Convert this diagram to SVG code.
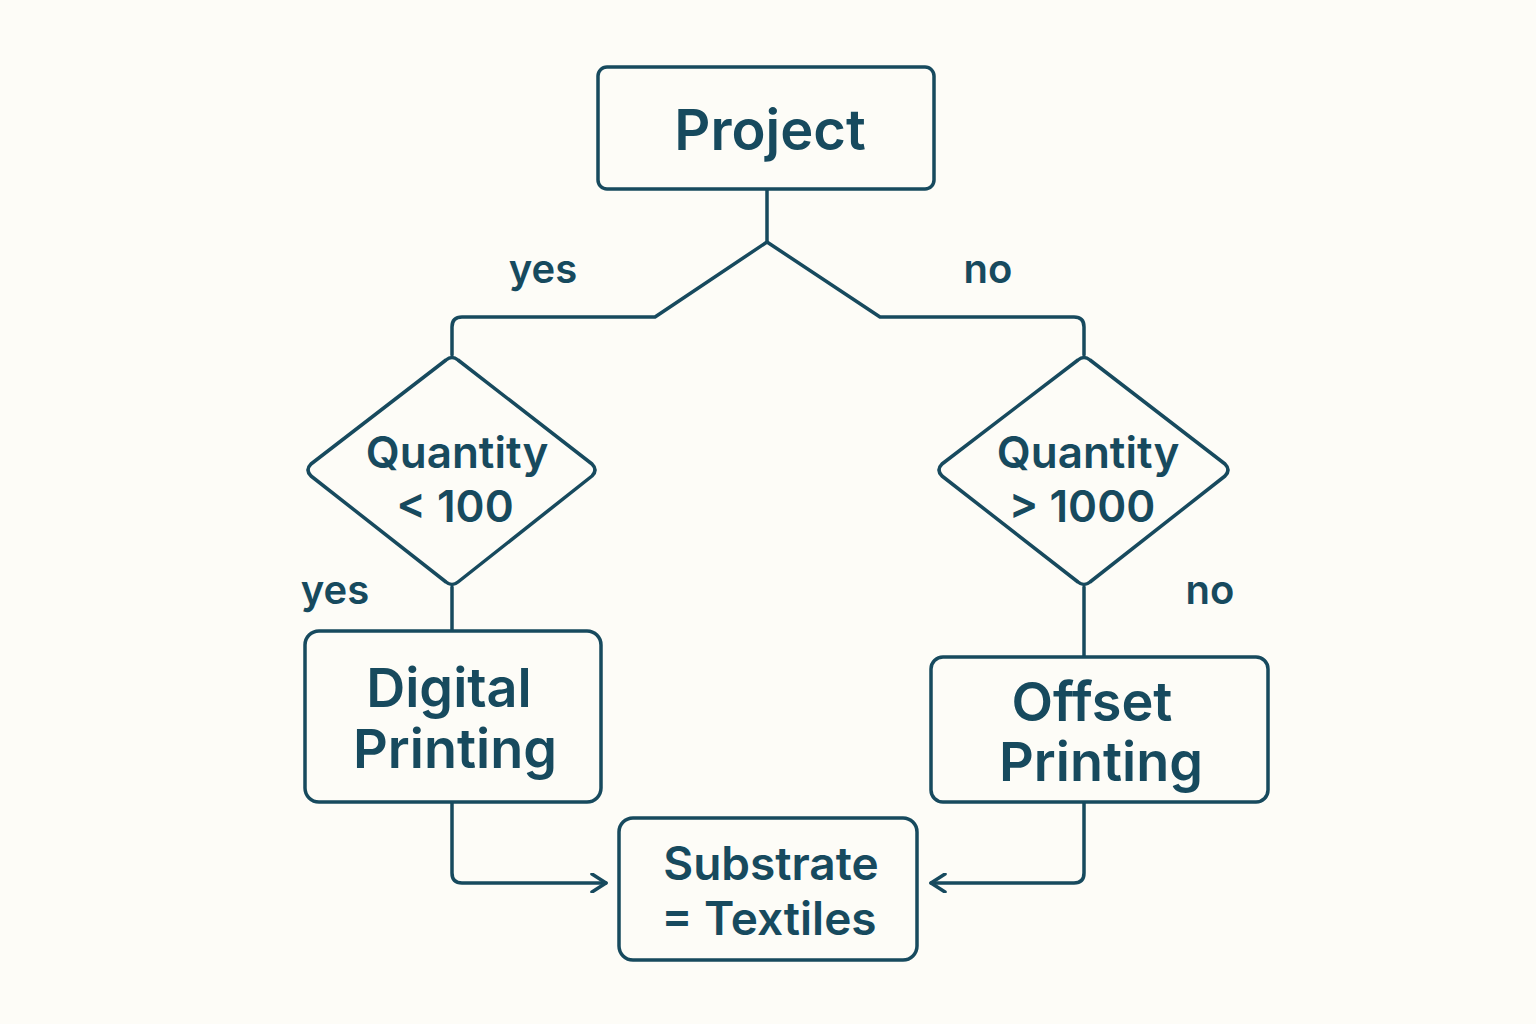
<svg xmlns="http://www.w3.org/2000/svg" width="1536" height="1024" viewBox="0 0 1536 1024">
<defs>
<style>
.s{fill:none;stroke:#174a5e;stroke-width:3.5;stroke-linejoin:round;stroke-linecap:round}
.b{fill:#fdfcf7;stroke:#174a5e;stroke-width:3.5;stroke-linejoin:round}
text{font-family:"Inter","Liberation Sans",sans-serif;fill:#174a5e;font-weight:600;text-anchor:middle}
</style>
<marker id="a" viewBox="0 0 20 20" refX="18" refY="10" markerWidth="20" markerHeight="20" markerUnits="userSpaceOnUse" orient="auto">
<path d="M4 1 L18 10 L4 19" fill="none" stroke="#174a5e" stroke-width="3.5" stroke-linecap="round" stroke-linejoin="round"/>
</marker>
</defs>
<rect width="1536" height="1024" fill="#fdfcf7"/>
<g id="connectors">
<path class="s" d="M767 189 V242 L655 317 H462 Q452 317 452 327 V355"/>
<path class="s" d="M767 242 L880 317 H1074 Q1084 317 1084 327 V355"/>
<path class="s" d="M452 587 V631"/>
<path class="s" d="M1084 587 V657"/>
<path class="s" d="M452 802 V873 Q452 883 462 883 H606" marker-end="url(#a)"/>
<path class="s" d="M1084 802 V873 Q1084 883 1074 883 H931" marker-end="url(#a)"/>
<text x="543" y="283" font-size="40">yes</text>
<text x="988" y="283" font-size="40">no</text>
<text x="335" y="604" font-size="40">yes</text>
<text x="1210" y="604" font-size="40">no</text>
</g>
<g id="project"><rect class="b" x="598" y="67" width="336" height="122" rx="9"/><text x="770" y="150" font-size="56">Project</text></g>
<g id="q1"><path class="b" d="M446 360 Q452 355 458 360 L592 464 Q598 470 592 476 L458 582 Q452 587 446 582 L311 476 Q305 470 311 464 Z"/><text x="457" y="468" font-size="44">Quantity</text><text x="455" y="522" font-size="44">&lt; 100</text></g>
<g id="q2"><path class="b" d="M1078 360 Q1084 355 1090 360 L1225 464 Q1231 470 1225 476 L1090 582 Q1084 587 1078 582 L942 476 Q936 470 942 464 Z"/><text x="1088" y="468" font-size="44">Quantity</text><text x="1082" y="522" font-size="44">&gt; 1000</text></g>
<g id="digital"><rect class="b" x="305" y="631" width="296" height="171" rx="14"/><text x="449" y="707" font-size="54">Digital</text><text x="455" y="768" font-size="54">Printing</text></g>
<g id="offset"><rect class="b" x="931" y="657" width="337" height="145" rx="12"/><text x="1092" y="721" font-size="54">Offset</text><text x="1101" y="781" font-size="54">Printing</text></g>
<g id="substrate"><rect class="b" x="619" y="818" width="298" height="142" rx="14"/><text x="771" y="880" font-size="46">Substrate</text><text x="769" y="935" font-size="46">= Textiles</text></g>
</svg>
